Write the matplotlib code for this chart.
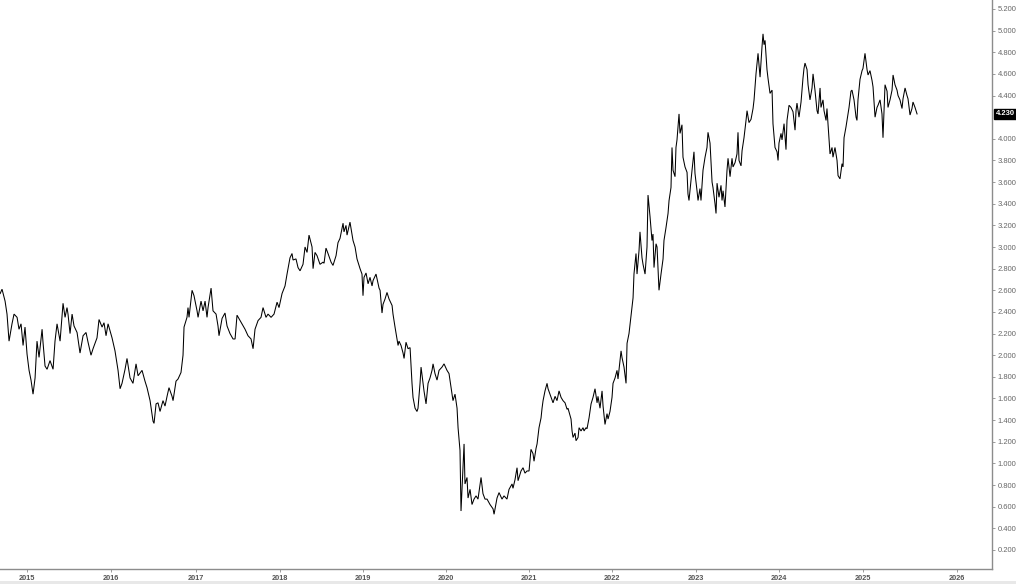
import numpy as np
import matplotlib.pyplot as plt
from matplotlib.patches import Rectangle
from matplotlib.transforms import blended_transform_factory

# decimal year (chart position) and 10-year yield in %
years = [
    2014.682, 2014.704, 2014.740, 2014.763, 2014.787, 2014.822, 2014.846, 2014.882, 2014.905, 2014.929,
    2014.953, 2014.976, 2015.000, 2015.024, 2015.047, 2015.071, 2015.095, 2015.118, 2015.142, 2015.178,
    2015.189, 2015.213, 2015.237, 2015.272, 2015.308, 2015.331, 2015.355, 2015.391, 2015.426, 2015.450,
    2015.473, 2015.485, 2015.509, 2015.533, 2015.556, 2015.592, 2015.627, 2015.663, 2015.698, 2015.722,
    2015.757, 2015.781, 2015.828, 2015.852, 2015.888, 2015.911, 2015.935, 2015.959, 2016.006, 2016.041,
    2016.077, 2016.101, 2016.124, 2016.160, 2016.183, 2016.219, 2016.254, 2016.290, 2016.314, 2016.361,
    2016.396, 2016.420, 2016.456, 2016.491, 2016.503, 2016.527, 2016.550, 2016.574, 2016.609, 2016.633,
    2016.657, 2016.680, 2016.716, 2016.728, 2016.763, 2016.787, 2016.822, 2016.846,
    2016.858, 2016.893, 2016.905, 2016.917, 2016.953, 2016.976, 2017.012, 2017.024, 2017.059, 2017.083,
    2017.107, 2017.130, 2017.142, 2017.178, 2017.201, 2017.237, 2017.260, 2017.272, 2017.308, 2017.343,
    2017.367, 2017.402, 2017.438, 2017.462, 2017.485, 2017.521, 2017.556, 2017.580, 2017.615, 2017.651,
    2017.675, 2017.698, 2017.734, 2017.769, 2017.793, 2017.828, 2017.852, 2017.888, 2017.923, 2017.959,
    2017.982, 2018.018, 2018.053, 2018.077, 2018.112, 2018.136, 2018.148, 2018.183, 2018.207, 2018.231,
    2018.266, 2018.290, 2018.314, 2018.337, 2018.373, 2018.385, 2018.408, 2018.432, 2018.467, 2018.503,
    2018.515, 2018.538, 2018.562, 2018.598, 2018.621, 2018.657, 2018.680, 2018.704, 2018.740, 2018.751,
    2018.775, 2018.787, 2018.822, 2018.858, 2018.882, 2018.905, 2018.941, 2018.964, 2018.976, 2018.988,
    2019.012, 2019.036, 2019.059, 2019.083, 2019.095, 2019.130, 2019.154, 2019.166,
    2019.178, 2019.201, 2019.213, 2019.237, 2019.260, 2019.284, 2019.320, 2019.331, 2019.355, 2019.391,
    2019.402, 2019.426, 2019.450, 2019.462, 2019.485, 2019.509, 2019.533, 2019.556, 2019.568, 2019.592,
    2019.615, 2019.627, 2019.651, 2019.663, 2019.686, 2019.698, 2019.722, 2019.746, 2019.769, 2019.793,
    2019.805, 2019.828, 2019.852, 2019.876, 2019.911, 2019.935, 2019.970, 2019.994, 2020.030, 2020.041,
    2020.065, 2020.089, 2020.101, 2020.124, 2020.136, 2020.160, 2020.172, 2020.183, 2020.207, 2020.219,
    2020.243, 2020.266, 2020.290, 2020.314, 2020.337, 2020.373, 2020.396, 2020.420, 2020.444, 2020.479,
    2020.515, 2020.527, 2020.562, 2020.586, 2020.621, 2020.645, 2020.680, 2020.704, 2020.740, 2020.751,
    2020.775, 2020.799, 2020.811,
    2020.846, 2020.870, 2020.893, 2020.917, 2020.941, 2020.964, 2020.988, 2021.000, 2021.024, 2021.036,
    2021.059, 2021.083, 2021.095, 2021.107, 2021.130, 2021.154, 2021.166, 2021.189, 2021.225, 2021.249,
    2021.272, 2021.296, 2021.320, 2021.343, 2021.367, 2021.391, 2021.402, 2021.438, 2021.450, 2021.462,
    2021.485, 2021.497, 2021.521, 2021.533, 2021.556, 2021.580, 2021.592, 2021.615, 2021.627, 2021.651,
    2021.675, 2021.698, 2021.722, 2021.746, 2021.757, 2021.781, 2021.805, 2021.817, 2021.840, 2021.864,
    2021.876, 2021.899, 2021.923, 2021.935, 2021.959, 2021.982, 2021.994, 2022.030, 2022.041, 2022.065,
    2022.089, 2022.101, 2022.124,
    2022.172, 2022.183, 2022.207, 2022.219, 2022.243, 2022.254, 2022.278, 2022.290, 2022.314, 2022.337,
    2022.349, 2022.373, 2022.396, 2022.408, 2022.420, 2022.444, 2022.456, 2022.479, 2022.503, 2022.527,
    2022.538, 2022.562, 2022.586, 2022.598, 2022.621, 2022.633, 2022.645, 2022.669, 2022.680, 2022.692,
    2022.716, 2022.728, 2022.751, 2022.763, 2022.787, 2022.811, 2022.822, 2022.834, 2022.858, 2022.870,
    2022.893, 2022.905, 2022.929, 2022.941, 2022.964, 2022.976, 2023.000, 2023.024, 2023.047, 2023.059,
    2023.083, 2023.107, 2023.118, 2023.142, 2023.154, 2023.166, 2023.189, 2023.213, 2023.225, 2023.237,
    2023.260, 2023.284, 2023.296, 2023.320, 2023.343, 2023.355, 2023.379, 2023.402, 2023.414, 2023.426,
    2023.450, 2023.462, 2023.485, 2023.509, 2023.521, 2023.544, 2023.568, 2023.592, 2023.604,
    2023.627, 2023.651, 2023.675, 2023.698, 2023.710, 2023.722, 2023.734, 2023.757, 2023.769, 2023.793,
    2023.817, 2023.828, 2023.852, 2023.876, 2023.888, 2023.899, 2023.923, 2023.935, 2023.959, 2023.982,
    2023.994, 2024.018, 2024.041, 2024.065, 2024.089, 2024.101, 2024.112, 2024.136, 2024.160, 2024.183,
    2024.195, 2024.207, 2024.231, 2024.243, 2024.266, 2024.290, 2024.302, 2024.325, 2024.349, 2024.361,
    2024.385, 2024.396, 2024.420, 2024.432, 2024.456, 2024.467, 2024.491, 2024.503, 2024.527, 2024.538,
    2024.562, 2024.586, 2024.598, 2024.621, 2024.645, 2024.657, 2024.669, 2024.692, 2024.716, 2024.728,
    2024.751, 2024.763, 2024.787, 2024.811, 2024.822, 2024.834, 2024.858, 2024.882, 2024.893, 2024.917,
    2024.941, 2024.953, 2024.976, 2025.000, 2025.012, 2025.036, 2025.059, 2025.071, 2025.095, 2025.118,
    2025.130, 2025.154, 2025.178, 2025.189, 2025.213, 2025.237, 2025.249, 2025.272, 2025.296, 2025.308,
    2025.331, 2025.355, 2025.367, 2025.391, 2025.414, 2025.426, 2025.450, 2025.473, 2025.485, 2025.509,
    2025.533,
]

yields = [
    2.57, 2.61, 2.50, 2.38, 2.13, 2.29, 2.38, 2.35, 2.24, 2.29,
    2.09, 2.26, 2.01, 1.86, 1.77, 1.64, 1.79, 2.13, 1.98, 2.24,
    2.12, 1.90, 1.87, 1.95, 1.87, 2.13, 2.29, 2.13, 2.48, 2.35,
    2.44, 2.38, 2.20, 2.38, 2.27, 2.21, 2.02, 2.18, 2.21, 2.12,
    2.00, 2.06, 2.16, 2.33, 2.26, 2.30, 2.18, 2.29, 2.16, 2.04,
    1.86, 1.69, 1.74, 1.87, 1.97, 1.79, 1.74, 1.92, 1.81, 1.86,
    1.76, 1.70, 1.58, 1.39, 1.37, 1.55, 1.56, 1.48, 1.58, 1.53,
    1.62, 1.70, 1.62, 1.58, 1.76, 1.78, 1.84, 2.00,
    2.26, 2.35, 2.44, 2.35, 2.60, 2.55, 2.41, 2.35, 2.50, 2.41,
    2.50, 2.35, 2.44, 2.62, 2.41, 2.38, 2.27, 2.18, 2.34, 2.39,
    2.27, 2.20, 2.15, 2.15, 2.37, 2.32, 2.27, 2.24, 2.18, 2.15,
    2.06, 2.24, 2.32, 2.35, 2.44, 2.35, 2.38, 2.35, 2.38, 2.49,
    2.44, 2.57, 2.64, 2.75, 2.90, 2.94, 2.88, 2.89, 2.81, 2.78,
    2.84, 3.00, 2.95, 3.11, 3.00, 2.80, 2.95, 2.92, 2.84, 2.86,
    2.85, 2.99, 2.94, 2.86, 2.83, 2.92, 3.04, 3.08, 3.22, 3.14,
    3.20, 3.11, 3.23, 3.06, 3.00, 2.89, 2.80, 2.75, 2.55, 2.72,
    2.76, 2.66, 2.72, 2.64, 2.69, 2.75, 2.66, 2.62,
    2.60, 2.39, 2.47, 2.52, 2.58, 2.52, 2.46, 2.38, 2.26, 2.09,
    2.13, 2.09, 2.02, 1.97, 2.12, 2.06, 2.07, 1.74, 1.61, 1.51,
    1.48, 1.51, 1.74, 1.89, 1.74, 1.67, 1.55, 1.74, 1.79, 1.86,
    1.92, 1.83, 1.77, 1.86, 1.89, 1.92, 1.86, 1.83, 1.64, 1.58,
    1.64, 1.51, 1.33, 1.12, 0.56, 0.96, 1.18, 0.81, 0.87, 0.68,
    0.76, 0.62, 0.67, 0.70, 0.67, 0.87, 0.72, 0.67, 0.67, 0.62,
    0.58, 0.53, 0.68, 0.73, 0.67, 0.70, 0.67, 0.76, 0.81, 0.77,
    0.85, 0.96, 0.84,
    0.93, 0.96, 0.91, 0.93, 0.93, 1.13, 1.09, 1.02, 1.14, 1.18,
    1.33, 1.42, 1.51, 1.58, 1.67, 1.74, 1.69, 1.64, 1.56, 1.62,
    1.58, 1.67, 1.61, 1.58, 1.56, 1.50, 1.51, 1.41, 1.30, 1.24,
    1.28, 1.21, 1.24, 1.33, 1.30, 1.33, 1.30, 1.33, 1.32, 1.42,
    1.55, 1.61, 1.69, 1.56, 1.62, 1.51, 1.67, 1.53, 1.36, 1.46,
    1.41, 1.48, 1.61, 1.74, 1.79, 1.86, 1.78, 2.04, 1.98, 1.89,
    1.74, 2.11, 2.20,
    2.53, 2.75, 2.94, 2.75, 2.97, 3.14, 2.90, 2.84, 2.75, 3.00,
    3.48, 3.28, 3.06, 3.12, 2.81, 3.03, 3.00, 2.60, 2.75, 2.89,
    3.06, 3.18, 3.31, 3.43, 3.55, 3.92, 3.71, 3.65, 3.92, 3.99,
    4.23, 4.05, 4.13, 3.83, 3.74, 3.69, 3.49, 3.43, 3.62, 3.71,
    3.88, 3.68, 3.52, 3.43, 3.54, 3.43, 3.71, 3.83, 3.92, 4.06,
    3.96, 3.60, 3.55, 3.40, 3.31, 3.59, 3.46, 3.57, 3.43, 3.52,
    3.37, 3.71, 3.82, 3.65, 3.82, 3.74, 3.78, 3.86, 4.06, 3.80,
    3.75, 3.89, 4.01, 4.17, 4.26, 4.15, 4.18, 4.28, 4.36,
    4.60, 4.79, 4.57, 4.85, 4.97, 4.87, 4.91, 4.64, 4.56, 4.42,
    4.45, 4.14, 3.92, 3.88, 3.80, 3.96, 4.05, 3.99, 4.14, 3.90,
    4.17, 4.31, 4.29, 4.25, 4.08, 4.26, 4.33, 4.20, 4.34, 4.56,
    4.65, 4.70, 4.64, 4.50, 4.36, 4.47, 4.60, 4.45, 4.26, 4.23,
    4.47, 4.29, 4.36, 4.26, 4.17, 4.28, 3.99, 3.86, 3.92, 3.83,
    3.92, 3.80, 3.66, 3.63, 3.77, 3.74, 4.01, 4.11, 4.23, 4.29,
    4.44, 4.45, 4.36, 4.20, 4.17, 4.36, 4.55, 4.63, 4.65, 4.79,
    4.64, 4.59, 4.63, 4.54, 4.48, 4.20, 4.29, 4.31, 4.36, 4.23,
    4.01, 4.50, 4.44, 4.29, 4.36, 4.45, 4.59, 4.50, 4.45, 4.40,
    4.36, 4.28, 4.37, 4.47, 4.40, 4.37, 4.22, 4.28, 4.34, 4.29,
    4.23,
]

last_value = 4.23

year_labels = ["2015", "2016", "2017", "2018", "2019", "2020",
               "2021", "2022", "2023", "2024", "2025", "2026"]
# where the year labels sit on the chart's (trading-day) time scale
year_ticks = [2015.000, 2015.994, 2017.000, 2017.994, 2018.976, 2019.959,
              2020.941, 2021.923, 2022.917, 2023.899, 2024.893, 2026.006]

y_ticks = [round(v, 1) for v in np.arange(0.2, 5.21, 0.2) if abs(v - 4.2) > 1e-6]

plt.rcParams["font.family"] = ["Liberation Sans", "DejaVu Sans"]

fig = plt.figure(figsize=(10.16, 5.84), dpi=100)
ax = fig.add_axes([0.0, 15 / 584, 992 / 1016, 569 / 584])

ax.plot(years, yields, color="black", lw=0.75, solid_joinstyle="miter")

ax.set_xlim(2014.680, 2026.420)
ax.set_ylim(0.024, 5.283)

ax.set_xticks(year_ticks)
ax.set_xticklabels(year_labels)
ax.set_yticks(y_ticks)
ax.set_yticklabels([f"{v:.3f}" for v in y_ticks])

ax.yaxis.tick_right()
for side in ("left", "top"):
    ax.spines[side].set_visible(False)
for side in ("right", "bottom"):
    ax.spines[side].set_color("#8c8c8c")
    ax.spines[side].set_linewidth(1.0)

ax.tick_params(axis="y", direction="out", length=2.5, width=0.6, color="#8c8c8c",
               labelsize=5.5, labelcolor="#666666", pad=1.5)
ax.tick_params(axis="x", direction="out", length=2.5, width=0.6, color="#8c8c8c",
               labelsize=5.3, labelcolor="#555555", pad=1.5)
for lbl in ax.get_xticklabels():
    lbl.set_fontweight("bold")

# last value tag on the price axis
trans = blended_transform_factory(ax.transAxes, ax.transData)
ax.text(1.0035, last_value, f"{last_value:.3f}", transform=trans,
        ha="left", va="center", fontsize=5.5, fontweight="bold", color="white",
        bbox=dict(boxstyle="square,pad=0.25", fc="black", ec="black"), clip_on=False)

# light grey strip at the very bottom
fig.patches.append(Rectangle((0, 0), 1, 3.5 / 584, transform=fig.transFigure,
                             facecolor="#e8e8e8", edgecolor="none", zorder=0))

fig.savefig("out.png", dpi=100, facecolor="white")
